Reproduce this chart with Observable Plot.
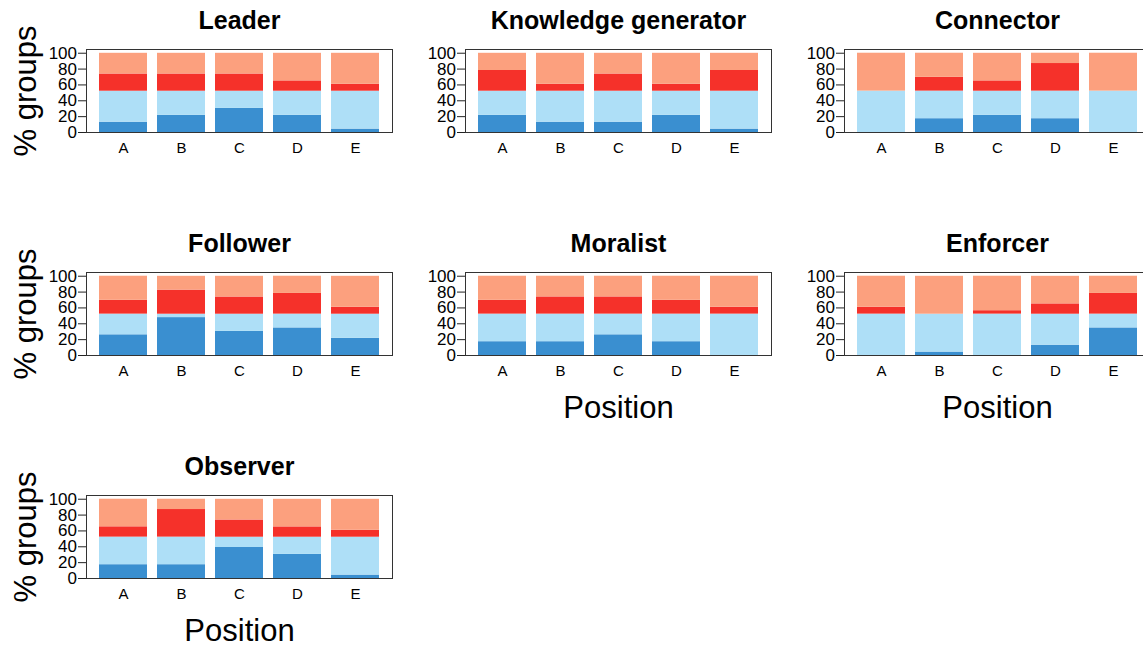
<!DOCTYPE html>
<html><head><meta charset="utf-8">
<script src="https://cdn.jsdelivr.net/npm/d3@7"></script>
<script src="https://cdn.jsdelivr.net/npm/@observablehq/plot@0.6"></script>
<style>
html,body{margin:0;padding:0;background:#fff;overflow:hidden}
#chart{position:relative;width:1143px;height:645px;font-family:"Liberation Sans",Arial,sans-serif}
#chart svg{position:absolute;overflow:visible}
</style></head><body><div id="chart"></div>
<script>
const roles = ["Leader", "Knowledge generator", "Connector", "Follower", "Moralist", "Enforcer", "Observer"];
const positions = ["A", "B", "C", "D", "E"];
const layers = ["dark blue", "light blue", "red", "salmon"];
const colors = ["#3A8FD0", "#AEDFF7", "#F5312A", "#FCA07E"];
const yTicks = [0, 20, 40, 60, 80, 100];
const yLabel = "% groups";
const xLabel = "Position";

// percentage of groups per layer, one row per role, values for positions A..E
const darkBlue = [
  [13.0, 21.7, 30.4, 21.7, 4.3],
  [21.7, 13.0, 13.0, 21.7, 4.3],
  [0, 17.4, 21.7, 17.4, 0],
  [26.1, 47.8, 30.4, 34.8, 21.7],
  [17.4, 17.4, 26.1, 17.4, 0],
  [0, 4.3, 0, 13.0, 34.8],
  [17.4, 17.4, 39.1, 30.4, 4.3]
];
const lightBlue = [
  [39.1, 30.4, 21.7, 30.4, 47.8],
  [30.4, 39.1, 39.1, 30.4, 47.8],
  [52.2, 34.8, 30.4, 34.8, 52.2],
  [26.1, 4.3, 21.7, 17.4, 30.4],
  [34.8, 34.8, 26.1, 34.8, 52.2],
  [52.2, 47.8, 52.2, 39.1, 17.4],
  [34.8, 34.8, 13.0, 21.7, 47.8]
];
const red = [
  [21.7, 21.7, 21.7, 13.0, 8.7],
  [26.1, 8.7, 21.7, 8.7, 26.1],
  [0, 17.4, 13.0, 34.8, 0],
  [17.4, 30.4, 21.7, 26.1, 8.7],
  [17.4, 21.7, 21.7, 17.4, 8.7],
  [8.7, 0, 4.3, 13.0, 26.1],
  [13.0, 34.8, 21.7, 13.0, 8.7]
];
const salmon = [
  [26.1, 26.1, 26.1, 34.8, 39.1],
  [21.7, 39.1, 26.1, 39.1, 21.7],
  [47.8, 30.4, 34.8, 13.0, 47.8],
  [30.4, 17.4, 26.1, 21.7, 39.1],
  [30.4, 26.1, 26.1, 30.4, 39.1],
  [39.1, 47.8, 43.5, 34.8, 21.7],
  [34.8, 13.0, 26.1, 34.8, 39.1]
];

const series = [darkBlue, lightBlue, red, salmon];
const chart = document.getElementById("chart");
const font = "Liberation Sans, Arial, sans-serif";

roles.forEach((role, i) => {
  const col = i % 3, row = Math.floor(i / 3);
  const rows = [];
  positions.forEach((p, j) => {
    layers.forEach((l, k) => rows.push({position: p, layer: l, value: series[k][i][j]}));
  });
  const marks = [
    Plot.barY(rows, {x: "position", y: "value", fill: "layer"}),
    Plot.frame({stroke: "#333"}),
    Plot.axisY(yTicks, {tickSize: 8, tickFormat: () => "", label: null, stroke: "#222"}),
    Plot.text(yTicks, {y: d => d, text: d => String(d), frameAnchor: "left", textAnchor: "end", dx: -9.5, fontSize: 17}),
    Plot.text(positions, {x: d => d, text: d => d, frameAnchor: "bottom", lineAnchor: "top", dy: 10, fontSize: 15}),
    Plot.text([role], {text: d => d, frameAnchor: "top", lineAnchor: "bottom", dy: -21, fontSize: 25, fontWeight: "bold"})
  ];
  if (col === 0) marks.push(Plot.text([yLabel], {text: d => d, frameAnchor: "left", textAnchor: "middle", lineAnchor: "bottom", rotate: -90, dx: -51, fontSize: 31}));
  if (i >= 4) marks.push(Plot.text([xLabel], {text: d => d, frameAnchor: "bottom", lineAnchor: "bottom", dy: 62, fontSize: 31}));
  const svg = Plot.plot({
    width: 397, height: 223,
    marginLeft: 86, marginRight: 5, marginTop: 49, marginBottom: 91,
    style: {fontFamily: font, background: "transparent", color: "#000", overflow: "visible"},
    x: {domain: positions, paddingInner: 0.17, paddingOuter: 0.18, axis: null},
    y: {domain: [0, 104.7], axis: null},
    color: {domain: layers, range: colors},
    marks
  });
  svg.style.left = Math.round(col * 379) + "px";
  svg.style.top = (row * 223) + "px";
  chart.appendChild(svg);
});
</script></body></html>
